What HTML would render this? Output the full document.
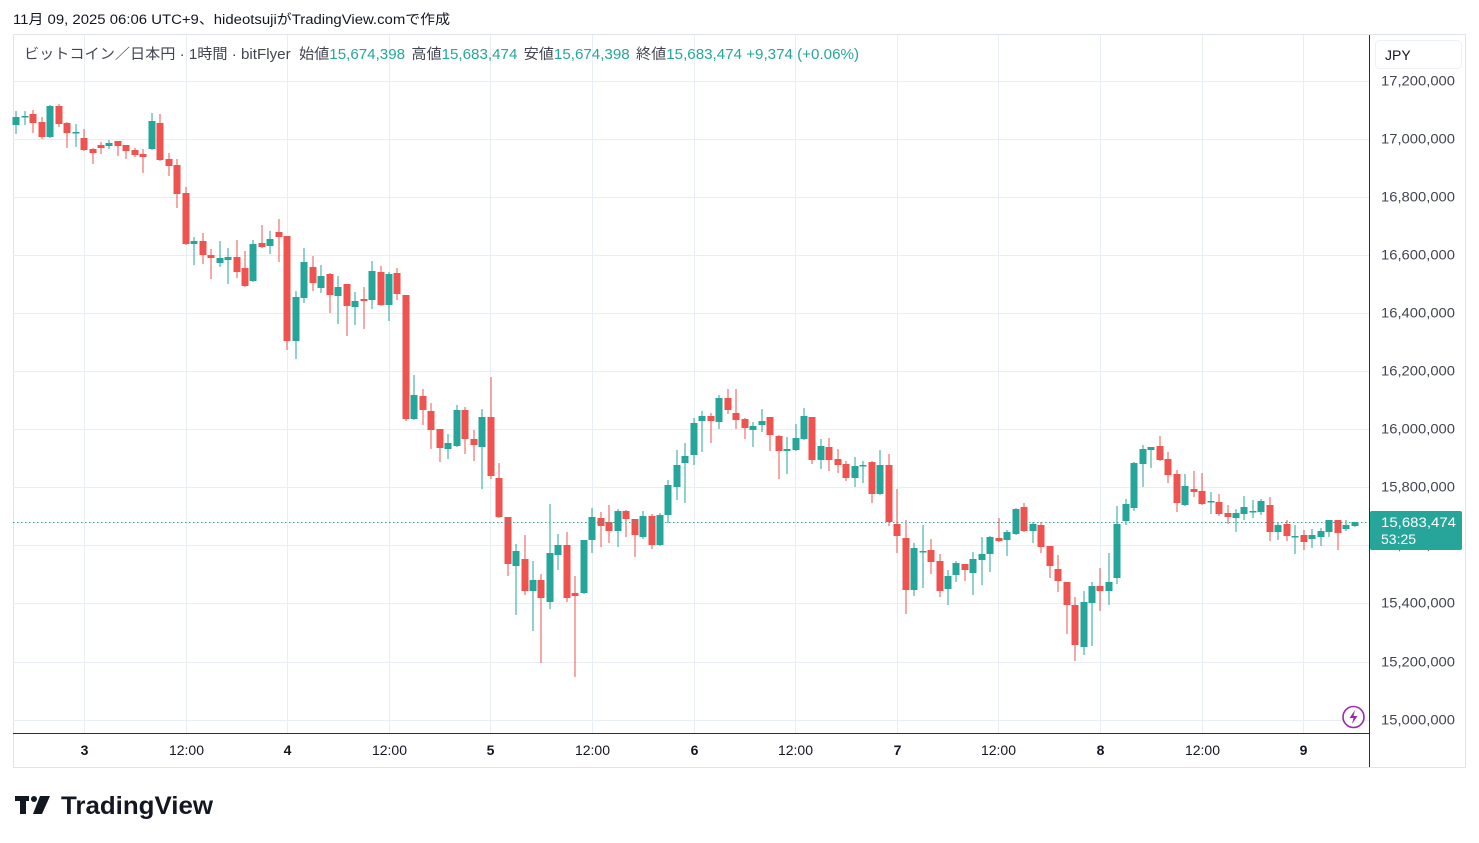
<!DOCTYPE html>
<html><head><meta charset="utf-8"><style>
body{margin:0;background:#fff;width:1479px;height:843px;overflow:hidden;font-family:"Liberation Sans","Noto Sans CJK JP",sans-serif}
</style></head><body>
<svg id="s" width="1479" height="843" xmlns="http://www.w3.org/2000/svg" style="position:absolute;left:0;top:0;font-family:'Liberation Sans','Noto Sans CJK JP',sans-serif">
<text x="13" y="24" font-size="13.5" fill="#131722" textLength="437" lengthAdjust="spacingAndGlyphs">11月 09, 2025 06:06 UTC+9、hideotsujiがTradingView.comで作成</text>
<rect x="13.5" y="34.5" width="1452" height="733" fill="none" stroke="#e0e3eb"/>
<g id="grid" stroke="#e9eef5" stroke-width="1"></g>
<line x1="13" y1="733.5" x2="1369" y2="733.5" stroke="#2a2e39" stroke-width="1"/>
<line x1="1369.5" y1="35" x2="1369.5" y2="767" stroke="#2a2e39" stroke-width="1"/>
<g id="labels" font-size="14" fill="#131722"></g>
<g id="candles"></g>
<line x1="13" y1="522.5" x2="1369" y2="522.5" stroke="#26a69a" stroke-dasharray="1.5,2.5"/>
<rect x="1375.5" y="40.5" width="86" height="28" rx="4" fill="#fff" stroke="#eef0f3"/>
<text x="1385" y="60" font-size="14" fill="#131722">JPY</text>
<rect x="1370" y="511" width="92" height="39" rx="2" fill="#26a69a"/>
<text x="1381" y="527" font-size="14" fill="#fff" textLength="75" lengthAdjust="spacingAndGlyphs">15,683,474</text>
<text x="1381" y="544" font-size="14" fill="#fff">53:25</text>
<circle cx="1353.5" cy="717" r="10.5" fill="#fff" stroke="#9c27b0" stroke-width="1.6"/>
<path d="M1355 710 L1349.5 718 L1353.5 718 L1352 724 L1357.5 716 L1353.5 716 Z" fill="#9c27b0"/>
<text x="24" y="59" font-size="14.5" fill="#434651" textLength="835" lengthAdjust="spacingAndGlyphs">ビットコイン／日本円 · 1時間 · bitFlyer <tspan dx="4">始値</tspan><tspan fill="#26a69a">15,674,398</tspan><tspan dx="6">高値</tspan><tspan fill="#26a69a">15,683,474</tspan><tspan dx="6">安値</tspan><tspan fill="#26a69a">15,674,398</tspan><tspan dx="6">終値</tspan><tspan fill="#26a69a">15,683,474 +9,374 (+0.06%)</tspan></text>
<g fill="#131722">
<rect x="15" y="796" width="14" height="5"/><rect x="20" y="796" width="6" height="18"/>
<circle cx="34" cy="799" r="3"/><path d="M40 796 L50 796 L42 814 L33 814 Z"/>
</g>
<text x="61" y="814" font-size="25" font-weight="bold" fill="#131722" textLength="152" lengthAdjust="spacingAndGlyphs">TradingView</text>
</svg>
<script>
const D=[[125,117,111,133],[116,116,111,124],[114,123,110,132],[122,137,117,138],[137,106,105,137],[106,124,104,126],[123,133,122,147],[132,132,124,146],[138,150,129,150],[149,153,148,163],[145,148,142,153],[146,143,140,148],[141,146,141,155],[145,151,145,158],[150,155,148,156],[154,157,149,172],[149,121,113,149],[123,160,114,160],[159,166,153,175],[165,194,159,207],[193,244,187,244],[244,241,237,264],[241,255,233,263],[255,258,249,278],[263,258,241,266],[260,257,248,283],[257,272,240,277],[268,286,251,286],[281,244,240,281],[243,247,225,247],[246,239,231,253],[232,237,219,261],[236,341,236,349],[341,297,291,358],[298,262,248,302],[267,283,256,290],[288,276,265,292],[274,295,273,312],[296,287,276,323],[284,306,284,335],[307,301,292,324],[299,301,287,328],[300,271,261,308],[272,305,266,305],[305,274,272,320],[273,294,268,299],[295,419,295,420],[419,395,375,419],[396,410,389,424],[411,430,403,448],[429,448,429,461],[449,443,434,458],[446,410,405,446],[410,439,407,453],[439,445,430,460],[447,417,409,488],[417,476,377,478],[478,517,463,517],[517,564,517,575],[566,551,544,614],[559,591,535,594],[591,580,561,630],[580,598,574,662],[602,553,504,608],[555,545,534,569],[545,598,532,601],[593,596,576,676],[593,540,540,593],[540,517,508,552],[518,526,512,546],[522,531,505,542],[531,511,509,546],[511,519,510,536],[519,535,519,556],[537,516,511,538],[516,545,514,548],[545,515,513,545],[515,485,480,522],[487,465,450,499],[463,456,443,502],[455,423,418,464],[421,416,411,451],[416,421,413,442],[422,398,395,428],[398,410,389,413],[413,420,389,428],[419,428,418,438],[430,426,422,446],[425,421,409,431],[417,435,417,450],[436,451,435,478],[451,449,437,473],[450,438,424,450],[439,416,408,439],[417,460,417,463],[460,446,439,468],[447,460,438,470],[459,465,449,472],[464,478,461,480],[478,466,457,486],[465,465,461,482],[462,494,461,502],[494,465,450,494],[465,522,454,525],[524,536,489,552],[538,590,520,613],[590,548,543,595],[551,551,525,587],[550,562,539,573],[561,591,554,596],[589,576,570,604],[575,563,561,581],[564,570,564,580],[573,559,552,594],[560,554,537,584],[554,537,536,571],[538,541,518,541],[540,532,530,555],[534,509,508,534],[507,531,503,531],[531,524,522,542],[525,547,522,552],[546,566,546,577],[569,581,555,591],[582,605,582,633],[605,645,597,660],[647,602,591,654],[603,586,582,645],[586,591,568,610],[591,582,553,604],[578,524,506,583],[521,504,499,524],[508,463,462,510],[464,449,445,486],[450,447,447,467],[446,460,436,460],[459,475,452,482],[474,503,470,511],[505,486,474,505],[489,492,471,496],[491,504,473,504],[501,501,492,513],[502,514,494,515],[513,517,505,523],[518,513,509,531],[514,507,496,519],[511,511,500,517],[512,501,499,514],[505,532,497,540],[532,525,523,539],[524,536,520,540],[536,536,525,553],[535,542,530,549],[539,535,529,547],[537,531,528,545],[532,520,520,536],[520,533,520,549],[529,525,520,530],[526,522,522,526]];
const ns="http://www.w3.org/2000/svg";
function el(p,t,a){const e=document.createElementNS(ns,t);for(const k in a)e.setAttribute(k,a[k]);p.appendChild(e);return e;}
const g=document.getElementById('grid'),L=document.getElementById('labels'),C=document.getElementById('candles');
for(let i=0;i<12;i++){const y=Math.round(80.5+i*58.1)+0.5;el(g,'line',{x1:13,x2:1369,y1:y,y2:y});
 const v=17200000-i*200000;const t=el(L,'text',{x:1381,y:y+4,fill:'#434651',textLength:74,lengthAdjust:'spacingAndGlyphs'});t.textContent=v.toLocaleString('en-US');}
const tl=['3','12:00','4','12:00','5','12:00','6','12:00','7','12:00','8','12:00','9'];
tl.forEach((s,i)=>{const x=Math.round(84+i*101.6)+0.5;el(g,'line',{x1:x,x2:x,y1:35,y2:733});
 const t=el(L,'text',{x:x,y:755,'text-anchor':'middle'});if(s.length==1)t.setAttribute('font-weight','bold');t.textContent=s;});
D.forEach((d,i)=>{const x=16.3+i*8.47;const [o,c,h,l]=d;const up=c<=o;const col=up?'#26a69a':'#ef5350';
 el(C,'rect',{x:Math.round(x)-0.5,y:Math.min(h,o,c),width:1,height:Math.max(l,o,c)-Math.min(h,o,c)+1,fill:col});
 el(C,'rect',{x:Math.round(x)-3.5,y:Math.min(o,c),width:7,height:Math.max(Math.abs(o-c),1.5),fill:col});});
</script>
</body></html>
